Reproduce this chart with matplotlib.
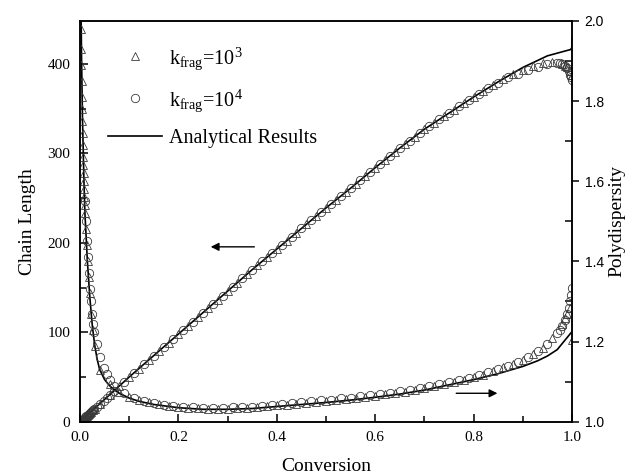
import matplotlib
matplotlib.use("Agg")
import matplotlib.pyplot as plt
from matplotlib.lines import Line2D

plt.rcParams["font.family"] = "Liberation Serif"
plt.rcParams["mathtext.fontset"] = "custom"
plt.rcParams["mathtext.rm"] = "Liberation Serif"
plt.rcParams["mathtext.it"] = "Liberation Serif:italic"

# k_frag = 10^3 (triangles): conversion, chain length, polydispersity
conv_t = [0.0005, 0.001, 0.0015, 0.002, 0.0025, 0.003, 0.0035, 0.004, 0.0045, 0.005,
          0.0055, 0.006, 0.0065, 0.007, 0.0075, 0.008, 0.0085, 0.009, 0.0095, 0.010,
          0.012, 0.014, 0.016, 0.018, 0.020, 0.023, 0.026, 0.030,
          0.04, 0.06, 0.08, 0.10, 0.12, 0.14, 0.16, 0.18, 0.20, 0.22, 0.24, 0.26,
          0.28, 0.30, 0.32, 0.34, 0.36, 0.38, 0.40, 0.42, 0.44, 0.46, 0.48, 0.50,
          0.52, 0.54, 0.56, 0.58, 0.60, 0.62, 0.64, 0.66, 0.68, 0.70, 0.72, 0.74,
          0.76, 0.78, 0.80, 0.82, 0.84, 0.86, 0.88, 0.90, 0.92, 0.94, 0.96, 0.98,
          0.985, 0.99, 0.995, 1.0]
chain_t = [0.25, 0.5, 0.7, 1.0, 1.2, 1.5, 1.7, 2.0, 2.2, 2.5,
           2.7, 2.9, 3.2, 3.4, 3.7, 3.9, 4.2, 4.4, 4.7, 4.9,
           5.9, 6.9, 7.8, 8.8, 9.8, 11.3, 12.7, 14.7,
           19.6, 29.5, 39.5, 49.5, 59, 69, 79, 88.5, 98, 107.5, 117, 127,
           136.5, 146, 155.5, 165, 175, 184, 193, 202, 211.5, 220.5, 230, 239,
           248, 257, 266, 275, 284, 293, 301.5, 310, 318.5, 327, 334, 341.5,
           349, 356, 363, 370, 376.5, 383, 389, 393, 398, 401, 402, 400,
           398, 396, 392, 388]
pd_t = [2.30, 2.15, 2.05, 1.98, 1.93, 1.89, 1.85, 1.81, 1.78, 1.75,
        1.72, 1.69, 1.66, 1.64, 1.62, 1.60, 1.58, 1.56, 1.54, 1.52,
        1.48, 1.44, 1.40, 1.36, 1.32, 1.27, 1.23, 1.19,
        1.13, 1.095, 1.074, 1.061, 1.053, 1.048, 1.044, 1.040, 1.037, 1.035, 1.034, 1.033,
        1.033, 1.033, 1.034, 1.035, 1.037, 1.039, 1.041, 1.043, 1.045, 1.047, 1.049, 1.051,
        1.054, 1.056, 1.059, 1.062, 1.065, 1.068, 1.071, 1.075, 1.079, 1.084, 1.089, 1.094,
        1.099, 1.105, 1.111, 1.117, 1.126, 1.136, 1.145, 1.155, 1.168, 1.185, 1.21, 1.245,
        1.258, 1.27, 1.285, 1.205]

# k_frag = 10^4 (circles)
conv_c = [0.010, 0.012, 0.014, 0.016, 0.018, 0.020, 0.022, 0.024, 0.026, 0.028,
          0.034, 0.041, 0.048, 0.054, 0.061,
          0.07, 0.09, 0.11, 0.13, 0.15, 0.17, 0.19, 0.21, 0.23, 0.25, 0.27, 0.29,
          0.31, 0.33, 0.35, 0.37, 0.39, 0.41, 0.43, 0.45, 0.47, 0.49, 0.51, 0.53,
          0.55, 0.57, 0.59, 0.61, 0.63, 0.65, 0.67, 0.69, 0.71, 0.73, 0.75, 0.77,
          0.79, 0.81, 0.83, 0.85, 0.87, 0.89, 0.91, 0.93, 0.95, 0.97,
          0.975, 0.98, 0.985, 0.99, 0.993, 0.996, 0.998, 1.0]
chain_c = [4.9, 5.9, 6.9, 7.8, 8.8, 9.8, 10.8, 11.8, 12.7, 13.7,
           16.7, 20, 23.5, 26.5, 30,
           34.5, 44.5, 54, 64, 74, 84, 93, 103, 112, 122, 132, 141,
           151, 160.5, 170, 179.5, 189, 198, 207, 216, 225, 234.5, 243.5, 252.5,
           261, 270.5, 279.5, 288.5, 297, 306, 314, 323, 331, 338, 345, 352.5,
           359.5, 366, 373, 379, 385, 389, 393, 397, 400, 401,
           401, 400, 398, 395, 392, 388, 385, 382]
pd_c = [1.55, 1.50, 1.45, 1.41, 1.37, 1.33, 1.30, 1.27, 1.245, 1.225,
        1.195, 1.162, 1.135, 1.118, 1.104,
        1.090, 1.071, 1.060, 1.052, 1.047, 1.043, 1.040, 1.038, 1.036, 1.035, 1.035, 1.035,
        1.036, 1.037, 1.038, 1.040, 1.043, 1.045, 1.047, 1.049, 1.051, 1.053, 1.055, 1.058,
        1.060, 1.063, 1.066, 1.069, 1.072, 1.076, 1.080, 1.084, 1.089, 1.094, 1.099, 1.104,
        1.110, 1.116, 1.123, 1.131, 1.140, 1.150, 1.162, 1.176, 1.195, 1.222,
        1.23, 1.24, 1.255, 1.27, 1.285, 1.30, 1.315, 1.333]

# analytical results
conv_an_chain = [0.0, 0.05, 0.10, 0.15, 0.20, 0.25, 0.30, 0.35, 0.40, 0.45, 0.50, 0.55,
                 0.60, 0.65, 0.70, 0.75, 0.80, 0.85, 0.90, 0.95, 0.97, 0.99, 0.997, 0.9995, 1.0]
chain_an = [0, 25, 50, 74, 98, 122, 146, 170, 193, 216, 239, 261,
            284, 306, 327, 345, 363, 380, 396, 409, 412, 415, 416, 418, 430]
conv_an_pd = [0.0005, 0.001, 0.002, 0.003, 0.005, 0.008, 0.01, 0.015, 0.02, 0.025, 0.03,
              0.035, 0.04, 0.05, 0.06, 0.07, 0.08, 0.10, 0.12, 0.15, 0.20, 0.25, 0.30,
              0.35, 0.40, 0.45, 0.50, 0.55, 0.60, 0.65, 0.70, 0.75, 0.80, 0.85, 0.90,
              0.93, 0.95, 0.97, 0.99, 1.0]
pd_an = [2.6, 2.3, 2.05, 1.92, 1.76, 1.60, 1.52, 1.40, 1.31, 1.24, 1.19,
         1.155, 1.13, 1.105, 1.09, 1.079, 1.071, 1.059, 1.051, 1.043, 1.035, 1.031, 1.031,
         1.033, 1.038, 1.043, 1.048, 1.054, 1.061, 1.069, 1.079, 1.092, 1.105, 1.12, 1.138,
         1.152, 1.164, 1.18, 1.21, 1.225]

# arrows: (start conversion, end conversion, level)
arrow_chain = (0.36, 0.26, 195.5)
arrow_pd = (0.759, 0.854, 1.071)

fig = plt.figure(figsize=(6.37, 4.76), dpi=100)
ax = fig.add_axes([0.1256, 0.114, 0.7724, 0.842])
ax2 = ax.twinx()

mk = dict(linestyle="none", markerfacecolor="none", markeredgecolor="#3a3a3a",
          markeredgewidth=0.6)
ax.plot(conv_an_chain, chain_an, color="black", lw=1.2)
ax.plot(conv_t, chain_t, marker="^", markersize=5.5, **mk)
ax.plot(conv_c, chain_c, marker="o", markersize=6, **mk)

ax2.plot(conv_an_pd, pd_an, color="black", lw=1.2)
ax2.plot(conv_t, pd_t, marker="^", markersize=5.5, **mk)
ax2.plot(conv_c, pd_c, marker="o", markersize=6, **mk)

ax.set_xlim(0, 1.0)
ax.set_ylim(0, 448)
ax2.set_ylim(1.0, 2.0)

ax.set_xticks([0.0, 0.2, 0.4, 0.6, 0.8, 1.0])
ax.set_xticks([0.1, 0.3, 0.5, 0.7, 0.9], minor=True)
ax.set_yticks([0, 100, 200, 300, 400])
ax.set_yticks([50, 150, 250, 350], minor=True)
ax2.set_yticks([1.0, 1.2, 1.4, 1.6, 1.8, 2.0])
ax2.set_yticks([1.1, 1.3, 1.5, 1.7, 1.9], minor=True)

ax.tick_params(axis="both", which="major", direction="in", length=6, width=1.1,
               labelsize=11, pad=7)
ax.tick_params(axis="both", which="minor", direction="in", length=4, width=1.1)
ax.tick_params(axis="y", which="both", right=False)
ax.tick_params(axis="x", which="both", top=False)
ax2.tick_params(axis="y", which="major", direction="out", length=5, width=1.1, pad=4)
ax2.tick_params(axis="y", which="minor", direction="in", length=5, width=1.1)
for lab in ax2.get_yticklabels():
    lab.set_fontfamily("Liberation Sans")
    lab.set_fontsize(10)

for sp in list(ax.spines.values()) + list(ax2.spines.values()):
    sp.set_linewidth(1.1)

ax.set_xlabel("Conversion", fontsize=14, labelpad=10)
ax.set_ylabel("Chain Length", fontsize=14, labelpad=8)
ax2.set_ylabel("Polydispersity", fontsize=14, labelpad=3)

ax.annotate("", xy=(arrow_chain[1], arrow_chain[2]), xytext=(arrow_chain[0], arrow_chain[2]),
            arrowprops=dict(arrowstyle="-|>", color="black", lw=1.0, mutation_scale=12))
ax2.annotate("", xy=(arrow_pd[1], arrow_pd[2]), xytext=(arrow_pd[0], arrow_pd[2]),
             arrowprops=dict(arrowstyle="-|>", color="black", lw=1.0, mutation_scale=12))

handles = [
    Line2D([], [], marker="^", markersize=6, **mk),
    Line2D([], [], marker="o", markersize=6, **mk),
    Line2D([], [], color="black", lw=1.2),
]
labels = [r"k$_{\rm frag}$=10$^{3}$", r"k$_{\rm frag}$=10$^{4}$", "Analytical Results"]
ax2.legend(handles, labels, loc="upper left", bbox_to_anchor=(0.04, 0.96), frameon=False,
           fontsize=14.5, handlelength=2.7, handletextpad=0.35, labelspacing=0.75,
           borderaxespad=0.0)

fig.savefig("out.png", dpi=100)
